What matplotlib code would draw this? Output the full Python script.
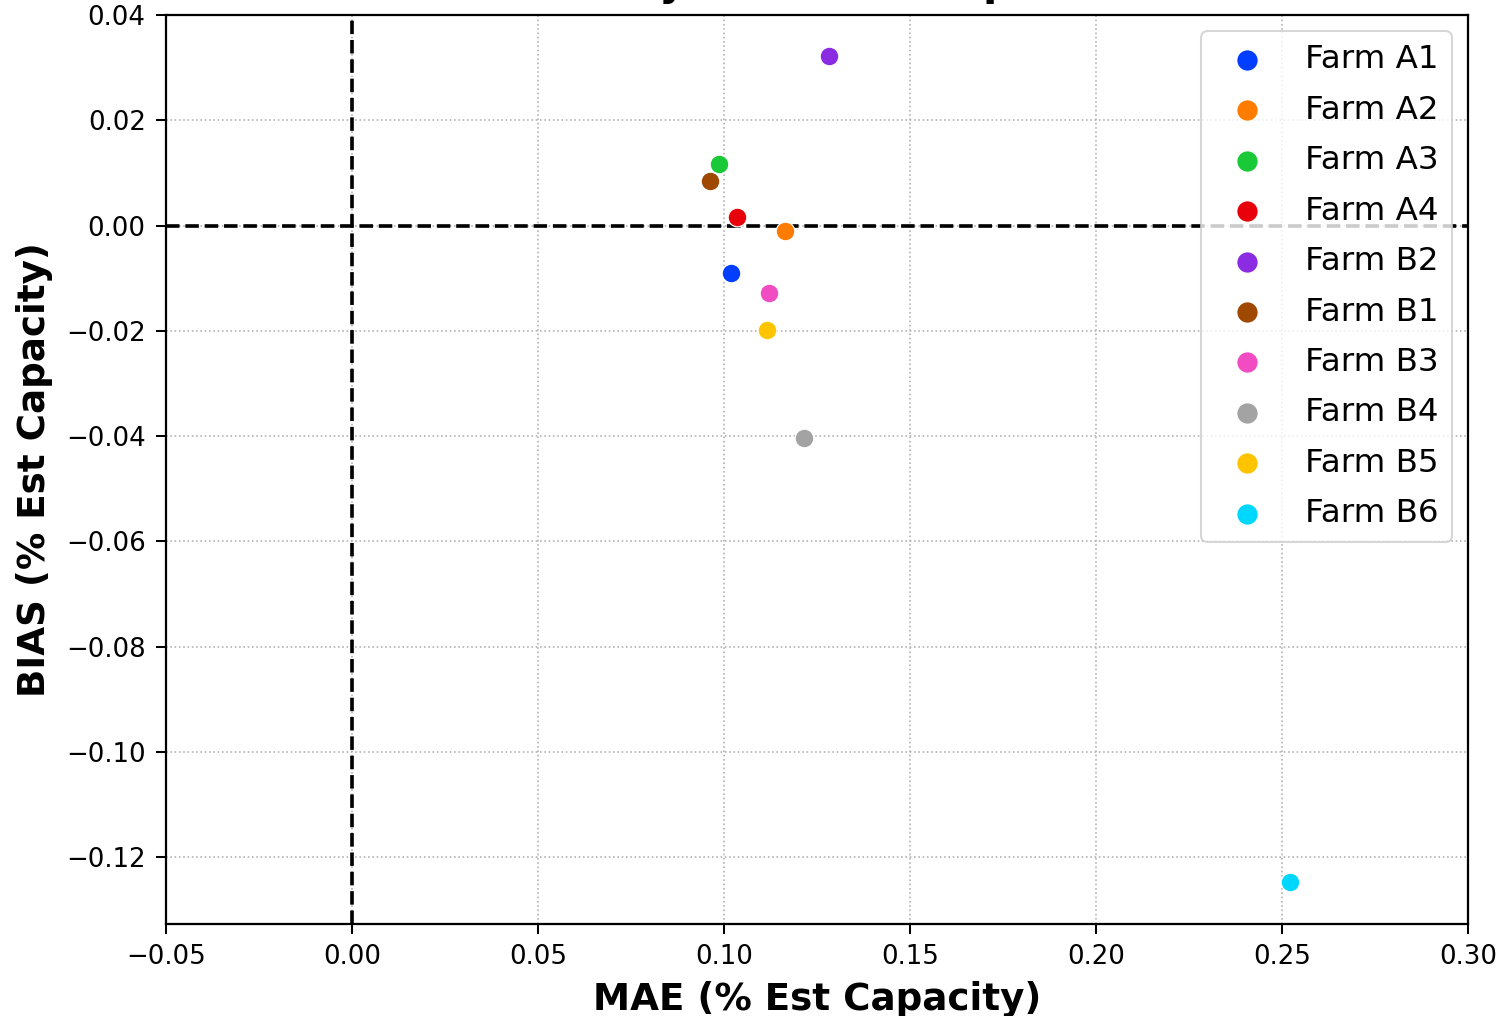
import matplotlib
matplotlib.use("Agg")
import matplotlib.pyplot as plt

farms = ["Farm A1", "Farm A2", "Farm A3", "Farm A4", "Farm B2",
         "Farm B1", "Farm B3", "Farm B4", "Farm B5", "Farm B6"]
mae = [0.1019, 0.1164, 0.0987, 0.1035, 0.1282, 0.0962, 0.1121, 0.1215, 0.1116, 0.2522]
bias = [-0.0091, -0.0010, 0.0116, 0.0017, 0.0323, 0.0084, -0.0129, -0.0403, -0.0198, -0.1248]
colors = ["#023eff", "#ff7c00", "#1ac938", "#e8000b", "#8b2be2",
          "#9f4800", "#f14cc1", "#a3a3a3", "#ffc400", "#00d7ff"]
xticks = [-0.05, 0.00, 0.05, 0.10, 0.15, 0.20, 0.25, 0.30]
yticks = [-0.12, -0.10, -0.08, -0.06, -0.04, -0.02, 0.00, 0.02, 0.04]

DPI = 146
fig = plt.figure(figsize=(1499 / DPI, 1016 / DPI), dpi=DPI)
ax = fig.add_axes([166 / 1499, 1 - 924 / 1016, (1468 - 166) / 1499, (924 - 15) / 1016])

ax.grid(True, linestyle=":", color="#b0b0b0", linewidth=0.8, zorder=0)
ax.set_axisbelow(True)
ax.axhline(0, color="black", linestyle="--", linewidth=1.8, zorder=1)
ax.axvline(0, color="black", linestyle="--", linewidth=1.8, zorder=1)

for name, x, y, c in zip(farms, mae, bias, colors):
    ax.scatter(x, y, s=85, color=c, edgecolor="white", linewidth=0.6, label=name, zorder=3)

ax.set_xlim(-0.05, 0.30)
ax.set_ylim(-0.1327, 0.04)
ax.set_xticks(xticks)
ax.set_yticks(yticks)
ax.tick_params(labelsize=12.8, length=5, width=1, pad=5)
for s in ax.spines.values():
    s.set_linewidth(1.1)

ax.set_xlabel("MAE (% Est Capacity)", fontsize=18.4, fontweight="bold", labelpad=5.5)
ax.set_ylabel("BIAS (% Est Capacity)", fontsize=18.4, fontweight="bold", labelpad=6.5)
ax.set_title("Accuracy vs Bias Comparison", fontsize=20.5, fontweight="bold", pad=10)

ax.legend(loc="upper right", fontsize=16, labelspacing=0.6, markerscale=1.15)

fig.savefig("out.png", dpi=DPI)
